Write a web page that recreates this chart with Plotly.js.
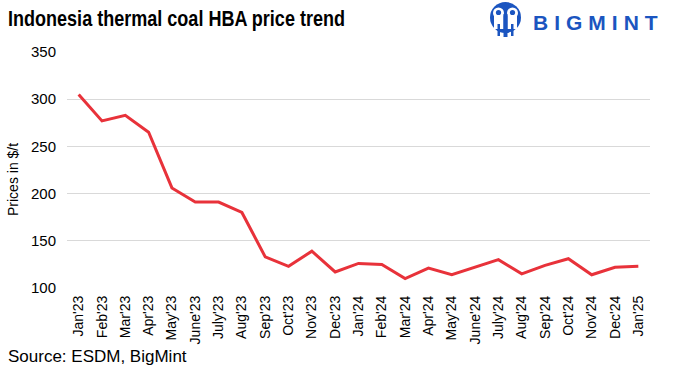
<!DOCTYPE html>
<html>
<head>
<meta charset="utf-8">
<script src="https://cdn.plot.ly/plotly-3.0.1.min.js"></script>
<style>
html,body{margin:0;padding:0;background:#fff;}
#chart{width:674px;height:371px;}
</style>
</head>
<body>
<div id="chart"></div>
<script>
const months = ["Jan'23","Feb'23","Mar'23","Apr'23","May'23","June'23","July'23","Aug'23","Sep'23","Oct'23","Nov'23","Dec'23",
                "Jan'24","Feb'24","Mar'24","Apr'24","May'24","June'24","July'24","Aug'24","Sep'24","Oct'24","Nov'24","Dec'24","Jan'25"];
const prices = [305,277,283,265,206,191,191,180,133,123,139,117,
                126,125,110,121,114,122,130,115,124,131,114,122,123];
const yTicks = [100,150,200,250,300,350];

const W = 674, H = 371;
const L = 67, R = 24, T = 52, B = 83;
const pw = W - L - R, ph = H - T - B;
const px = x => (x - L) / pw;
const py = y => (H - B - y) / ph;

const blue = '#1b55c0';
function disc(cx, cy, r, color) {
  return {type:'circle', xref:'paper', yref:'paper', x0:px(cx-r), x1:px(cx+r), y0:py(cy+r), y1:py(cy-r), fillcolor:color, line:{width:0}};
}
function box(x0, y0, x1, y1, color) {
  return {type:'rect', xref:'paper', yref:'paper', x0:px(x0), x1:px(x1), y0:py(y1), y1:py(y0), fillcolor:color, line:{width:0}};
}
const shapes = [
  disc(505.5, 17.5, 15.5, blue),
  disc(498.5, 13, 5.5, '#fff'),
  disc(512.5, 13, 5.5, '#fff'),
  box(494, 14, 503.5, 29, '#fff'),
  box(507.5, 14, 517, 29, '#fff'),
  disc(498.5, 12.5, 2.6, blue),
  disc(512.5, 12.5, 2.6, blue),
  box(503.5, 14, 507.5, 37, blue),
  box(497.5, 24, 500, 36, blue),
  box(511, 24, 513.5, 36, blue)
];

const annotations = [
  {xref:'paper', yref:'paper', x:px(531), y:py(22.5), xanchor:'left', yanchor:'middle', showarrow:false,
   text:'<span style="letter-spacing:6px">BIGMINT</span>', font:{family:'Liberation Sans, Arial, sans-serif', size:21, weight:'bold', color:blue}},
  {xref:'paper', yref:'paper', x:px(6), y:py(356), xanchor:'left', yanchor:'middle', showarrow:false,
   text:'Source: ESDM, BigMint', font:{family:'Arial, Liberation Sans, sans-serif', size:17, color:'#000'}},
  {xref:'paper', yref:'paper', x:px(13), y:py(180), xanchor:'center', yanchor:'middle', showarrow:false, textangle:-90,
   text:'Prices in $/t', font:{family:'Arial, Liberation Sans, sans-serif', size:14, color:'#000'}}
];

const trace = {
  x: months, y: prices, type:'scatter', mode:'lines',
  line:{color:'#e8323a', width:3}, hoverinfo:'x+y'
};

const layout = {
  width:W, height:H,
  margin:{l:L, r:R, t:T, b:B, pad:0},
  paper_bgcolor:'#fff', plot_bgcolor:'#fff',
  showlegend:false,
  title:{text:'Indonesia thermal coal HBA price trend', xref:'container', yref:'container',
         x:8/W, xanchor:'left', y:1-18/H, yanchor:'middle',
         font:{family:'Arial, Liberation Sans, sans-serif', size:22, weight:'bold', color:'#000'}},
  xaxis:{type:'category', range:[-0.5, 24.5], tickangle:-90, showgrid:false, zeroline:false, showline:false,
         ticks:'', ticklabelstandoff:4, fixedrange:true,
         tickfont:{family:'Arial, Liberation Sans, sans-serif', size:14, color:'#000'}},
  yaxis:{range:[100,350], tickvals:yTicks, ticktext:yTicks.map(String), showgrid:true, gridcolor:'#d9d9d9', gridwidth:1,
         zeroline:false, showline:false, ticks:'', ticklabelstandoff:10, fixedrange:true,
         tickfont:{family:'Arial, Liberation Sans, sans-serif', size:15, color:'#000'}},
  shapes:shapes,
  annotations:annotations
};

function fit() {
  const t = document.querySelector('.gtitle');
  if (t) { t.setAttribute('textLength', '337'); t.setAttribute('lengthAdjust', 'spacingAndGlyphs'); }
}
Plotly.newPlot('chart', [trace], layout, {displayModeBar:false, staticPlot:true}).then(() => {
  fit();
  setTimeout(fit, 0);
});
</script>
</body>
</html>
